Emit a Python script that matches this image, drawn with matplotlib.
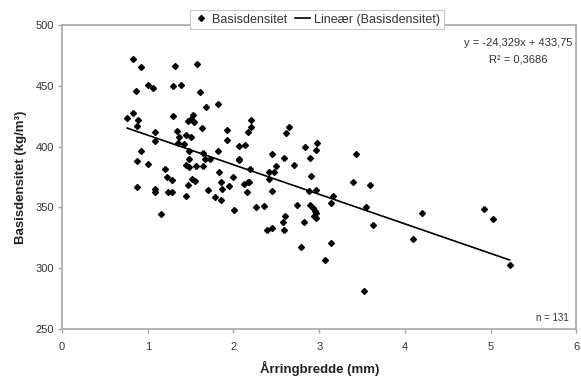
import matplotlib
matplotlib.use("Agg")
import matplotlib.pyplot as plt

plt.rcParams['font.family'] = ['Liberation Sans', 'DejaVu Sans']

# Årringbredde (mm) og basisdensitet (kg/m3) for hver prøve
aarringbredde = [
    0.83, 0.92, 1.32, 1.58, 1.00, 1.06, 1.29, 1.39, 0.86, 1.61,
    1.82, 1.68, 0.83, 0.76, 0.89, 1.30, 1.53, 1.51, 1.47, 1.54,
    0.87, 1.63, 1.92, 1.08, 1.34, 1.45, 1.51, 1.37, 1.08, 1.35,
    1.42, 1.93, 2.21, 2.21, 2.17, 2.07, 2.13, 0.92, 1.48, 1.65,
    1.82, 0.87, 1.00, 1.48, 1.67, 1.73, 1.45, 1.48, 1.56, 1.64,
    1.20, 1.83, 2.07, 2.07, 2.19, 1.22, 1.28, 0.88, 1.08, 1.08,
    1.24, 1.28, 1.45, 1.47, 1.52, 1.55, 1.86, 1.87, 1.70, 1.78,
    1.85, 1.95, 1.99, 2.01, 1.16, 2.12, 2.17, 2.18, 2.16, 2.26,
    2.36, 2.45, 2.41, 2.47, 2.49, 2.41, 2.45, 2.59, 2.65, 2.61,
    2.71, 2.83, 2.89, 2.97, 2.96, 2.90, 2.88, 2.96, 2.74, 2.89,
    2.93, 2.95, 2.96, 2.94, 2.96, 2.60, 2.58, 2.82, 2.39, 2.45,
    2.59, 3.16, 3.14, 3.39, 3.59, 3.43, 3.54, 3.63, 2.79, 3.14,
    3.07, 3.52, 4.09, 5.22, 4.20, 4.92, 5.03,
]
basisdensitet = [
    472.0, 465.7, 466.0, 467.9, 450.8, 448.0, 449.6, 450.8, 445.7, 445.1,
    434.9, 432.6, 427.4, 423.9, 422.1, 425.0, 426.4, 422.3, 420.8, 420.5,
    416.9, 415.0, 413.4, 412.3, 413.1, 409.4, 407.9, 407.9, 404.4, 403.2,
    401.9, 405.2, 421.6, 415.9, 412.3, 400.1, 401.2, 396.8, 396.0, 395.0,
    396.2, 388.3, 385.7, 389.6, 389.6, 390.2, 384.7, 383.5, 384.0, 384.0,
    381.2, 378.8, 390.2, 388.7, 381.7, 375.2, 372.5, 367.0, 365.3, 362.8,
    362.7, 362.7, 359.4, 368.4, 373.1, 371.7, 370.9, 365.5, 364.1, 358.7,
    355.7, 367.8, 375.4, 347.5, 344.4, 369.5, 371.1, 370.7, 362.8, 350.7,
    351.2, 393.9, 379.4, 379.3, 383.8, 373.1, 363.7, 391.0, 416.4, 411.6,
    385.0, 399.4, 390.4, 402.7, 397.2, 375.8, 363.7, 364.3, 352.0, 351.6,
    349.9, 347.0, 345.8, 342.9, 341.0, 343.3, 338.0, 337.8, 331.7, 333.3,
    331.7, 359.4, 353.6, 371.1, 368.4, 394.2, 350.1, 335.5, 317.2, 321.0,
    306.5, 281.3, 324.2, 302.4, 345.1, 348.4, 340.2,
]

# lineær trendlinje
stigning = -24.329
skjaering = 433.75
r2 = 0.3686
n_prover = 131

x_ticks = [0, 1, 2, 3, 4, 5, 6]
y_ticks = [250, 300, 350, 400, 450, 500]

fig = plt.figure(figsize=(5.81, 3.79), dpi=100)
ax = fig.add_axes([0.1067, 0.1319, 0.8855, 0.8021])

ax.plot(aarringbredde, basisdensitet, 'D', color='black', markersize=3.0,
        linestyle='none', label='Basisdensitet', zorder=3)

x0, x1 = min(aarringbredde), max(aarringbredde)
ax.plot([x0, x1], [skjaering + stigning * x0, skjaering + stigning * x1],
        color='black', linewidth=1.2, label='Lineær (Basisdensitet)', zorder=2)

ax.set_xlim(0, 6)
ax.set_ylim(250, 500)
ax.set_xticks(x_ticks)
ax.set_yticks(y_ticks)

for side in ax.spines.values():
    side.set_color('#a8a8a8')
    side.set_linewidth(1.2)
ax.tick_params(axis='both', colors='#a8a8a8', labelcolor='#333333',
               labelsize=8, length=3, width=1)
ax.tick_params(axis='x', pad=6)
ax.tick_params(axis='y', pad=3)

ax.set_xlabel('Årringbredde (mm)', fontsize=9.5, fontweight='bold',
              color='#222222')
ax.set_ylabel('Basisdensitet (kg/m³)', fontsize=9.5, fontweight='bold',
              color='#222222')
ax.xaxis.set_label_coords(0.5, -0.105)
ax.yaxis.set_label_coords(-0.068, 0.5)

ax.text(5.32, 485.5, f'y = {stigning:.3f}x + {skjaering:.2f}'.replace('.', ','),
        ha='center', va='center', fontsize=8, color='#333333')
ax.text(5.32, 471.5, f'R² = {r2:.4f}'.replace('.', ','),
        ha='center', va='center', fontsize=8, color='#333333')
ax.text(5.91, 259, f'n = {n_prover}', ha='right', va='center',
        fontsize=7, color='#333333')

leg = fig.legend(loc='center', bbox_to_anchor=(0.545, 0.9485), ncol=2,
                 fontsize=9, numpoints=1, handlelength=1.2, handletextpad=0.3,
                 columnspacing=0.6, borderpad=0.3, fancybox=False,
                 framealpha=1, edgecolor='#c8c8c8')
leg.get_frame().set_linewidth(0.8)
for t in leg.get_texts():
    t.set_color('#333333')

fig.savefig('out.png', dpi=100)
